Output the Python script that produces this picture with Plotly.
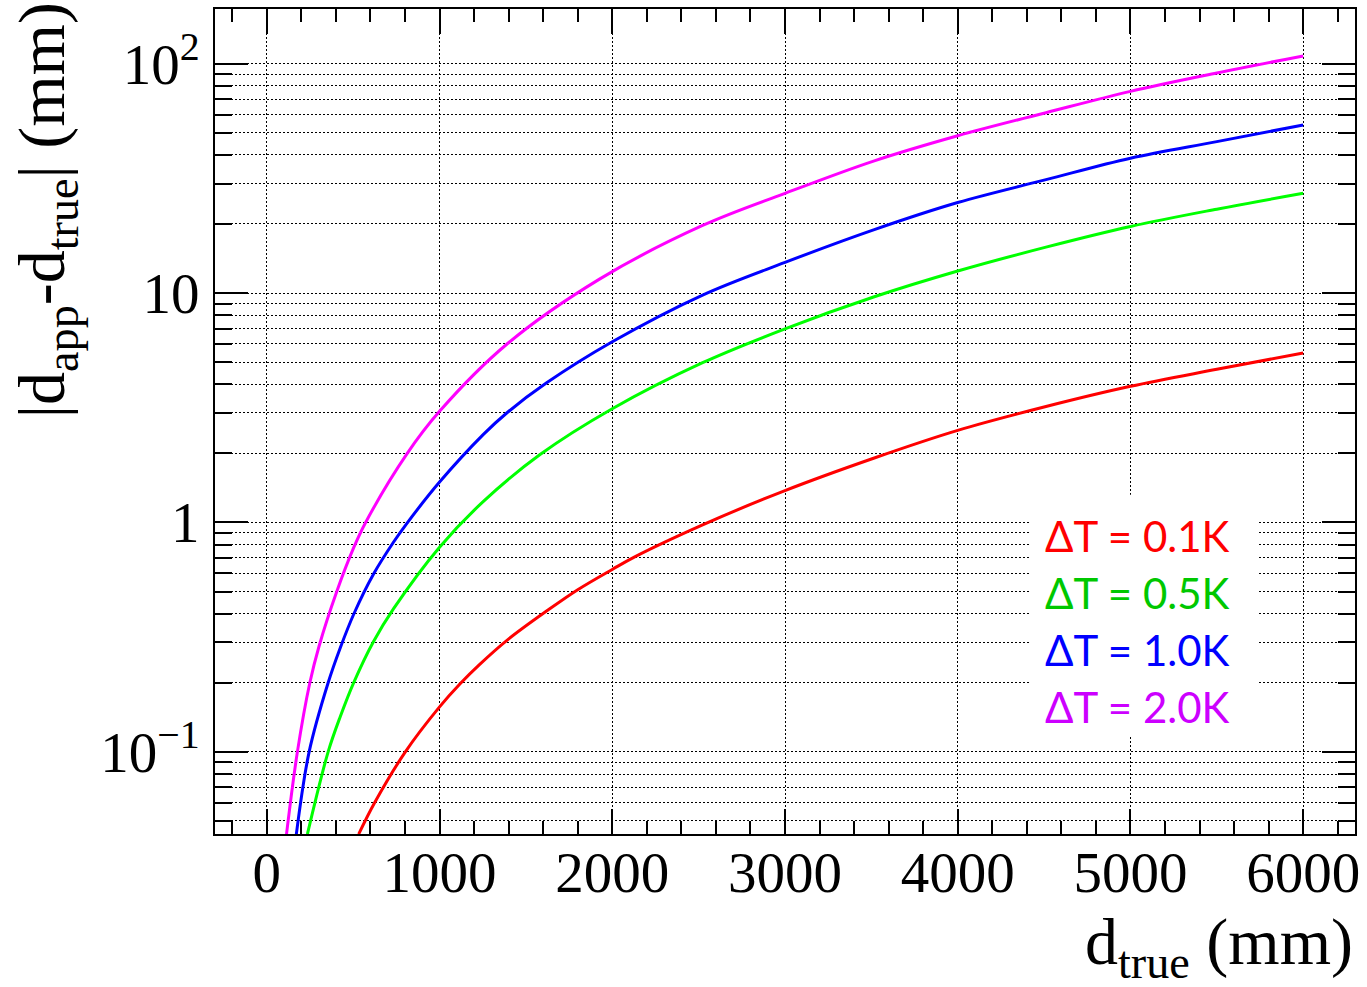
import plotly.graph_objects as go

# ---- data ----
d_red = [532, 624, 802, 1000, 1119, 1231, 1399, 1630, 1800, 2000, 2130, 2523, 3000, 3517, 4000, 4511, 5000, 5500, 6000]
v_red = [0.0438, 0.060, 0.100, 0.157, 0.198, 0.240, 0.310, 0.416, 0.509, 0.624, 0.708, 0.976, 1.377, 1.91, 2.52, 3.20, 3.92, 4.65, 5.48]

d_green = [235, 355, 426, 505, 618, 734, 1000, 1254, 1582, 2000, 2523, 3000, 3517, 4000, 4511, 5000, 5500, 6000]
v_green = [0.0438, 0.100, 0.143, 0.202, 0.303, 0.421, 0.78, 1.236, 1.977, 3.13, 4.97, 6.98, 9.63, 12.47, 15.85, 19.5, 23.2, 27.2]

d_blue = [171, 245, 355, 426, 503, 618, 734, 810, 1000, 1254, 1389, 1620, 2000, 2523, 3000, 3517, 4000, 4511, 5000, 5500, 6000]
v_blue = [0.0438, 0.100, 0.200, 0.285, 0.398, 0.596, 0.822, 0.989, 1.50, 2.42, 3.0, 4.06, 6.13, 9.8, 13.6, 18.9, 24.8, 31.2, 38.7, 45.7, 54.0]

d_mag = [114, 177, 249, 302, 403, 503, 572, 813, 1000, 1389, 1926, 2523, 3000, 3517, 4000, 4511, 5000, 5500, 6000]
v_mag = [0.0438, 0.100, 0.200, 0.288, 0.495, 0.776, 1.0, 2.0, 3.05, 5.98, 11.5, 19.7, 27.2, 37.7, 48.5, 61.1, 75.7, 91.0, 108.0]

series_names = ["ΔT = 0.1K", "ΔT = 0.5K", "ΔT = 1.0K", "ΔT = 2.0K"]
line_colors = ["#ff0000", "#00ff00", "#0000ff", "#ff00ff"]
text_colors = ["#ff0000", "#00c800", "#0000ff", "#cc00ff"]

y_tickvals = [0.1, 1, 10, 100]
y_ticktext = ["10<sup>−1</sup>", "1", "10", "10<sup>2</sup>"]
y_minor = [m * 10.0 ** e for e in range(-2, 2) for m in range(2, 10)]

fig = go.Figure()
for d, v, c, n in zip([d_red, d_green, d_blue, d_mag], [v_red, v_green, v_blue, v_mag], line_colors, series_names):
    fig.add_trace(go.Scatter(x=d, y=v, mode="lines", name=n,
                             line=dict(color=c, width=3, shape="spline", smoothing=1.0),
                             showlegend=False))

W, H = 1367, 987
L, R, T, B = 215, 11, 7, 153
pw, ph = W - L - R, H - T - B

def px(xp):
    return (xp - L) / pw

def py(yp):
    return (H - B - yp) / ph

serif = "Liberation Serif"
grid_dash = "2px,2px"

fig.update_layout(
    width=W, height=H,
    margin=dict(l=L, r=R, t=T, b=B, pad=0),
    paper_bgcolor="white", plot_bgcolor="white",
    showlegend=False,
    xaxis=dict(
        range=[-300, 6300], tickmode="linear", tick0=0, dtick=1000,
        ticks="inside", ticklen=25, tickwidth=1.5, tickcolor="black",
        showline=True, linewidth=2, linecolor="black", mirror="allticks",
        showgrid=True, gridcolor="black", griddash=grid_dash, gridwidth=1,
        zeroline=False,
        tickfont=dict(family=serif, size=57, color="black"),
        ticklabelstandoff=-12,
        minor=dict(ticks="inside", ticklen=13, tickwidth=1.5, tickcolor="black",
                   dtick=200, tick0=0, showgrid=False),
    ),
    yaxis=dict(
        type="log", range=[-1.358, 2.238],
        tickmode="array", tickvals=y_tickvals, ticktext=y_ticktext,
        ticks="inside", ticklen=33, tickwidth=1.5, tickcolor="black",
        showline=True, linewidth=2, linecolor="black", mirror="allticks",
        showgrid=True, gridcolor="black", griddash=grid_dash, gridwidth=1,
        zeroline=False,
        tickfont=dict(family=serif, size=57, color="black"),
        ticklabelstandoff=2,
        minor=dict(ticks="inside", ticklen=17, tickwidth=1.5, tickcolor="black",
                   tickmode="array", tickvals=y_minor,
                   showgrid=True, gridcolor="black", griddash=grid_dash, gridwidth=1),
    ),
)

# legend box (white, covering the grid) and coloured text lines
fig.add_shape(type="rect", xref="paper", yref="paper",
              x0=px(1030), x1=px(1258), y0=py(736), y1=py(494),
              fillcolor="white", line=dict(width=0), layer="above")
legend_y = [535, 592, 650, 707]
for n, c, yy in zip(series_names, text_colors, legend_y):
    fig.add_annotation(x=px(1044), y=py(yy), xref="paper", yref="paper",
                       xanchor="left", yanchor="middle", showarrow=False,
                       text=n, font=dict(family="Lato, Noto Sans", size=42, color=c))

# axis titles
fig.add_annotation(x=1.0, y=py(990), xref="paper", yref="paper",
                   xanchor="right", yanchor="bottom", showarrow=False,
                   text="d<sub>true</sub> (mm)",
                   font=dict(family=serif, size=66, color="black"))
fig.add_annotation(x=px(46), y=py(-2), xref="paper", yref="paper",
                   xanchor="center", yanchor="top", showarrow=False, textangle=-90,
                   text="|d<sub>app</sub>-d<sub>true</sub>| (mm)",
                   font=dict(family=serif, size=66, color="black"))

fig.write_html("out.html")
